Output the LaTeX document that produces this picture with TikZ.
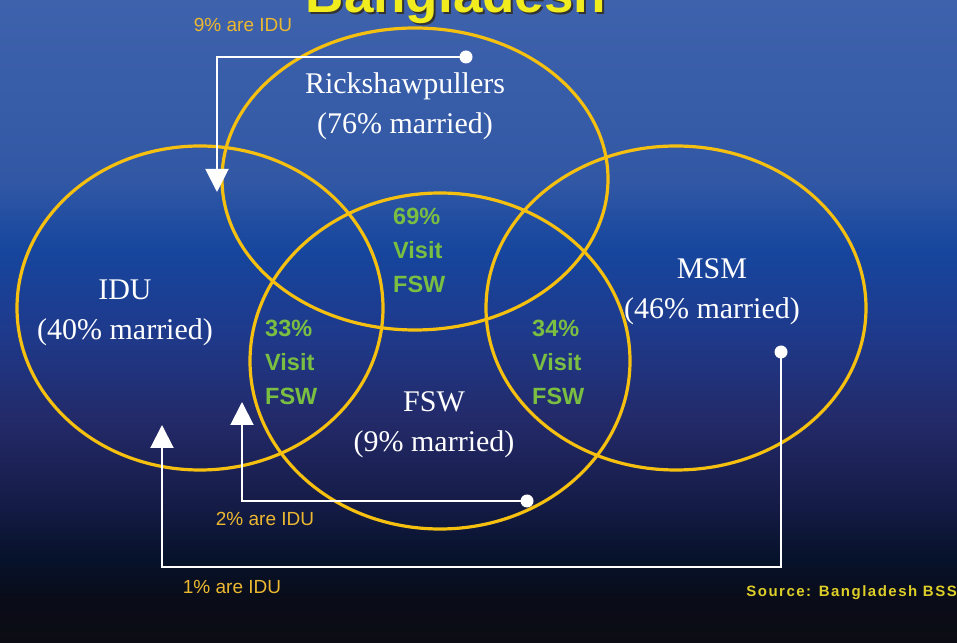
\documentclass[tikz,border=0pt]{standalone}
\usepackage{fontspec}
\setmainfont{Liberation Serif}
\setsansfont{Liberation Sans}
\usetikzlibrary{arrows.meta}

\definecolor{bgA}{RGB}{12,13,20}
\definecolor{bgB}{RGB}{10,12,24}
\definecolor{bgC}{RGB}{6,18,42}
\definecolor{bgD}{RGB}{22,28,72}
\definecolor{bgE}{RGB}{35,42,105}
\definecolor{bgF}{RGB}{30,58,140}
\definecolor{bgG}{RGB}{22,70,158}
\definecolor{bgH}{RGB}{50,88,165}
\definecolor{bgI}{RGB}{62,98,172}
\definecolor{ringcol}{RGB}{245,192,15}
\definecolor{idutxt}{RGB}{236,184,48}
\definecolor{visitgreen}{RGB}{122,190,66}
\definecolor{titleyellow}{RGB}{240,236,30}
\definecolor{srcyellow}{RGB}{222,206,40}

% the path covers 25bp--75bp of the shading
\pgfdeclareverticalshading{slidebg}{100bp}{color(0bp)=(bgA); color(25bp)=(bgA); color(28.25bp)=(bgB); color(31.4bp)=(bgC); color(36.05bp)=(bgD); color(42.3bp)=(bgE); color(49.3bp)=(bgF); color(55.55bp)=(bgG); color(61bp)=(bgH); color(75bp)=(bgI); color(100bp)=(bgI)}

\begin{document}
\begin{tikzpicture}[x=1pt,y=1pt,
    ring/.style={draw=ringcol,line width=3.2pt},
    grplbl/.style={text=white,font=\fontsize{30}{40}\selectfont,align=center},
    visitlbl/.style={text=visitgreen,font=\sffamily\bfseries\fontsize{23.5}{34}\selectfont,align=left,anchor=west,inner sep=0pt},
    idulbl/.style={text=idutxt,font=\sffamily\fontsize{19}{22}\selectfont},
    link/.style={draw=white,line width=2pt},
    linkarrow/.style={link,-{Triangle[width=23pt,length=23pt]}}]
    \useasboundingbox (0,0) rectangle (957,642);
    \clip (0,0) rectangle (957,642);
    \shade[shading=slidebg] (0,0) rectangle (957,642);

    \coordinate (rickC) at (415,463);
    \coordinate (iduC) at (200,334);
    \coordinate (fswC) at (440,281);
    \coordinate (msmC) at (676,334);

    \coordinate (dotNine) at (466,585);
    \coordinate (bendNine) at (217,585);
    \coordinate (tipNine) at (217,450);
    \coordinate (dotTwo) at (527,141);
    \coordinate (bendTwo) at (242,141);
    \coordinate (tipTwo) at (242,240);
    \coordinate (dotOne) at (781,290);
    \coordinate (bendOneA) at (781,75);
    \coordinate (bendOneB) at (162,75);
    \coordinate (tipOne) at (162,217);

    % Title
    \node[anchor=base,text=black!80,font=\sffamily\bfseries\fontsize{53}{60}\selectfont] (titleShadow) at (458,627) {Bangladesh};
    \node[anchor=base,text=titleyellow,font=\sffamily\bfseries\fontsize{53}{60}\selectfont] (title) at (456,629) {Bangladesh};

    % Circles
    \draw[ring] (rickC) ellipse [x radius=193, y radius=151];
    \draw[ring] (iduC) ellipse [x radius=183, y radius=162];
    \draw[ring] (fswC) ellipse [x radius=190, y radius=168];
    \draw[ring] (msmC) ellipse [x radius=190, y radius=162];

    % Links
    \draw[linkarrow] (dotNine) -- (bendNine) -- (tipNine);
    \draw[linkarrow] (dotTwo) -- (bendTwo) -- (tipTwo);
    \draw[linkarrow] (dotOne) -- (bendOneA) -- (bendOneB) -- (tipOne);
    \fill[white] (dotNine) circle (6.5);
    \fill[white] (dotTwo) circle (6.5);
    \fill[white] (dotOne) circle (6.5);

    % Labels
    \node[grplbl] (rickT) at (405,536) {Rickshawpullers\\(76\% married)};
    \node[grplbl] (iduT) at (125,329) {IDU\\(40\% married)};
    \node[grplbl] (msmT) at (712,350) {MSM\\(46\% married)};
    \node[grplbl] (fswT) at (434,217) {FSW\\(9\% married)};
    \node[visitlbl] (rfVisit) at (393,392) {69\%\\Visit\\FSW};
    \node[visitlbl] (ifVisit) at (265,280) {33\%\\Visit\\FSW};
    \node[visitlbl] (mfVisit) at (532,280) {34\%\\Visit\\FSW};
    \node[idulbl] (nineIdu) at (243,617) {9\% are IDU};
    \node[idulbl] (twoIdu) at (265,123) {2\% are IDU};
    \node[idulbl] (oneIdu) at (232,55) {1\% are IDU};
    \node[anchor=east,inner sep=0pt,text=srcyellow,font=\sffamily\bfseries\fontsize{15}{17}\selectfont\addfontfeature{LetterSpace=10}] (source) at (957,49) {Source: Bangladesh BSS};
\end{tikzpicture}
\end{document}
